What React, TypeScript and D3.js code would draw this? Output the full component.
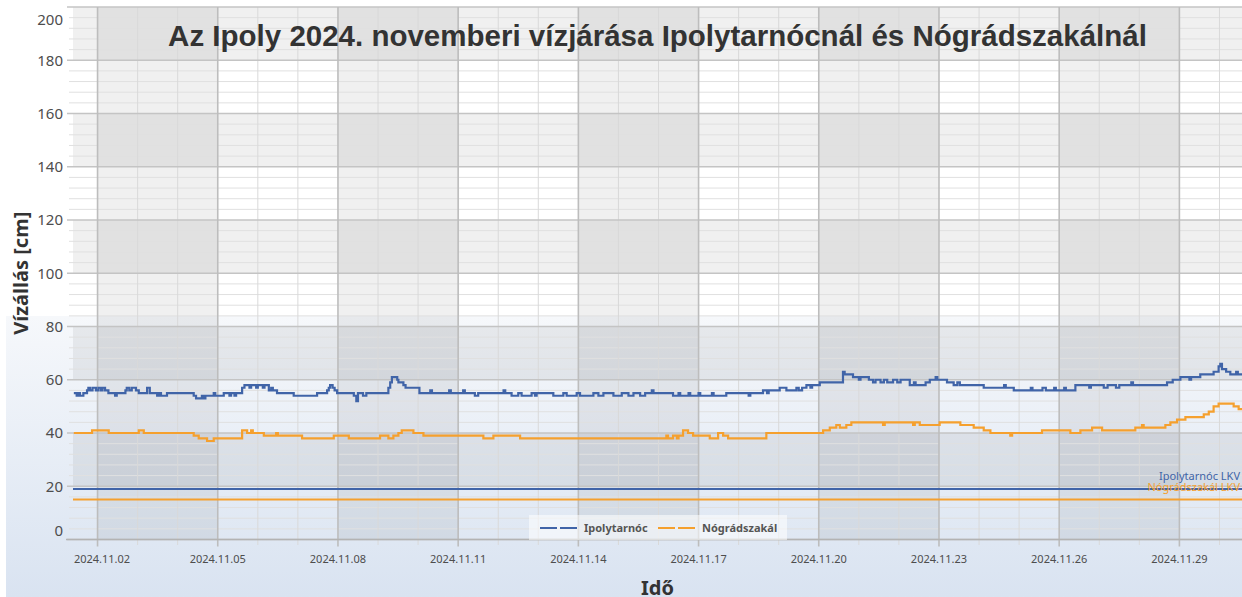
import React from "react";
import * as d3 from "d3";

// ---------- data ----------
const chartTitle = "Az Ipoly 2024. novemberi vízjárása Ipolytarnócnál és Nógrádszakálnál";
const yAxisTitle = "Vízállás [cm]";
const xAxisTitle = "Idő";
const seriesNames = ["Ipolytarnóc", "Nógrádszakál"];
const seriesColors = ["#4064a8", "#f5a02e"];
const lkvLabels = ["Ipolytarnóc LKV", "Nógrádszakál LKV"];
const lkvValues = [19, 15];
const yTickValues = [0, 20, 40, 60, 80, 100, 120, 140, 160, 180, 200];
// x domain in hours since 2024-11-01 00:00 (UTC)
const xStartHour = 9.3;
const xEndHour = 709.5;

// [hours since 2024-11-01 00:00, water level cm] — step change points
const ipolytarnoc: [number, number][] = [
  [9.8, 55], [11.5, 54], [12.5, 55], [13.5, 54], [15.5, 55], [17.7, 56], [18.5, 57], [19.5, 56], [21, 57], [23, 56],
  [24.5, 57], [26, 56], [27, 57], [28.5, 56], [30.5, 55], [34.5, 54], [35.5, 55], [40.7, 56], [41.5, 57], [43, 56],
  [44.5, 57], [47, 56], [48.7, 55], [53.7, 57], [55.3, 55], [59.7, 54], [61, 55], [62, 54], [65.6, 55], [81.6, 54],
  [83, 53], [86.5, 54], [87.5, 53], [88.6, 54], [93.6, 55], [94.5, 54], [99.6, 55], [103, 54], [104, 55], [106, 54],
  [107, 55], [110.6, 57], [112, 58], [115, 57], [116, 58], [119, 57], [120, 58], [123, 57], [124, 58], [126.6, 56],
  [128, 57], [129, 56], [131.5, 55], [141.5, 54], [155.5, 55], [161.5, 56], [162.5, 57], [163.3, 58], [164.8, 57],
  [166, 56], [167.5, 55], [177.5, 54], [179, 52], [180, 55], [183, 54], [185, 55], [198.2, 57], [199.3, 59],
  [200.3, 61], [203.5, 60], [204.2, 59], [207.2, 58], [208.5, 57], [216.8, 55], [223.3, 56], [224.3, 55],
  [234.6, 56], [235.6, 55], [243, 56], [244, 55], [250, 54], [252, 55], [267.2, 56], [268.2, 55], [272, 54],
  [276, 55], [278, 54], [284, 55], [286, 54], [287, 55], [297, 54], [303, 55], [305, 54], [311, 55], [313, 54],
  [321, 55], [324, 54], [327, 55], [333, 54], [338, 55], [342, 54], [345, 55], [349, 54], [352, 55], [356, 56],
  [357, 55], [368.7, 54], [372, 55], [373, 54], [378, 55], [379, 54], [384, 55], [385, 54], [392, 55], [393, 54],
  [400.6, 55], [414, 54], [415, 55], [422.6, 56], [425, 55], [426, 56], [432.6, 57], [436.6, 56], [442.6, 57],
  [444, 56], [446, 57], [448.6, 58], [451, 57], [452, 58], [456.6, 59], [470.5, 63], [471.5, 62], [476.5, 61],
  [480, 60], [481, 61], [486, 60], [488.5, 59], [490, 60], [493, 59], [495, 60], [497, 59], [500.5, 60], [503, 59],
  [505, 60], [510.5, 58], [513, 59], [514, 58], [520, 59], [522.5, 60], [526, 61], [527, 60], [532.8, 59],
  [536.8, 58], [539, 59], [540.5, 58], [554.8, 57], [567, 58], [568, 57], [572.8, 56], [583, 57], [584, 56],
  [590, 57], [592, 56], [597, 57], [598, 56], [603, 57], [604, 56], [609.7, 58], [618, 57], [619, 58], [626.7, 57],
  [629, 58], [634, 57], [636, 58], [643.2, 59], [644.2, 58], [664.6, 59], [668, 60], [672.6, 61], [678, 60],
  [679, 61], [684.5, 62], [692.5, 63], [695.5, 65], [696.5, 66], [697.5, 64], [700, 63], [702.5, 62], [706, 63],
  [707, 62], [709.5, 62],
];

const nogradszakal: [number, number][] = [
  [9.8, 40], [20.7, 41], [30.7, 40], [48.7, 41], [51.7, 40], [81.6, 39], [84.6, 38], [89.6, 37], [93.6, 38],
  [110.6, 41], [113.6, 40], [116, 41], [117, 40], [123.6, 39], [131, 40], [132, 39], [146.5, 38], [165.5, 39],
  [174.5, 38], [193.2, 39], [198.2, 38], [201.2, 39], [204.2, 40], [206.2, 41], [213.2, 40], [219.2, 39],
  [255.1, 38], [261.1, 39], [277.1, 38], [364.7, 39], [365.7, 38], [368.7, 39], [371, 38], [372, 39], [374.7, 41],
  [377.7, 40], [380.7, 39], [390.7, 38], [395.7, 40], [398.7, 39], [401.7, 38], [424.6, 40], [458.6, 41],
  [462.6, 42], [466.5, 43], [468.6, 42], [472.5, 43], [475.5, 44], [494.5, 43], [495.5, 44], [512.5, 43],
  [513.5, 44], [516.5, 43], [528.4, 44], [540.8, 43], [548.8, 42], [554.8, 41], [558.8, 40], [570.7, 39],
  [571.8, 40], [589.7, 41], [606.7, 40], [612.7, 41], [619.7, 42], [625.7, 41], [645.6, 42], [649.6, 43],
  [650.6, 42], [663.6, 43], [666.6, 44], [670.6, 45], [675.6, 46], [686.6, 47], [689.6, 48], [692.5, 50],
  [695.5, 51], [704.5, 50], [707.5, 49], [709.5, 49],
];

const seriesData = [ipolytarnoc, nogradszakal];

// ---------- chart ----------
const W = 1242;
const H = 597;
const FONT = "'Noto Sans', 'Open Sans', sans-serif";

export default function App() {
  const left = 73, right = 1242, top = 7, bottom = 539.5;
  const t0 = Date.UTC(2024, 10, 1);
  const toDate = (h: number) => new Date(t0 + h * 3600e3);
  const x = d3.scaleUtc().domain([toDate(xStartHour), toDate(xEndHour)]).range([left, right]);
  const y = d3.scaleLinear().domain([0, 200]).range([bottom, top]);

  const days = d3.utcDay.range(toDate(xStartHour), toDate(xEndHour));
  const majorDays = days.filter((d) => (d.getUTCDate() - 2) % 3 === 0);
  const minorDays = days.filter((d) => (d.getUTCDate() - 2) % 3 !== 0);
  const fmt = d3.utcFormat("%Y.%m.%d");

  const xBands: [number, number][] = [];
  majorDays.forEach((d, i) => {
    if (i % 2 === 0) {
      const next = majorDays[i + 1] ? x(majorDays[i + 1]) : right;
      xBands.push([x(d), next]);
    }
  });
  const yBands: [number, number][] = [];
  yTickValues.forEach((v) => {
    if (v < 200 && (v / 20) % 2 === 1) yBands.push([y(v + 20), y(v)]);
  });
  const minorY = d3.range(0, 201, 4).filter((v) => v % 20 !== 0);

  const line = d3
    .line<[number, number]>()
    .x((d) => x(toDate(d[0])))
    .y((d) => y(d[1]))
    .curve(d3.curveStepAfter);

  const shade = "rgba(0,0,0,0.058)";
  const labelHalf = 28;

  return (
    <svg
      width={W}
      height={H}
      style={{ position: "absolute", left: 0, top: 0, display: "block" }}
      fontFamily={FONT}
    >
      <defs>
        <linearGradient id="bg" x1="0" y1="0" x2="0" y2="1">
          <stop offset="0" stopColor="#f6f8fb" />
          <stop offset="1" stopColor="#d9e3f1" />
        </linearGradient>
        <clipPath id="plot">
          <rect x={left} y={top} width={right - left} height={bottom - top} />
        </clipPath>
      </defs>
      <rect x={0} y={0} width={W} height={H} fill="#ffffff" />
      <rect x={6} y={316} width={W - 6} height={H - 316} fill="url(#bg)" />

      {/* bands */}
      {xBands.map((b, i) => (
        <rect key={"xb" + i} x={b[0]} y={top} width={b[1] - b[0]} height={bottom - top} fill={shade} />
      ))}
      {yBands.map((b, i) => (
        <rect key={"yb" + i} x={left} y={b[0]} width={right - left} height={b[1] - b[0]} fill={shade} />
      ))}

      {/* minor grid */}
      {minorY.map((v) => (
        <line key={"my" + v} x1={69} x2={right} y1={y(v)} y2={y(v)} stroke="#e0e0e0" strokeWidth={1} />
      ))}
      {minorDays.map((d, i) => (
        <line key={"mx" + i} x1={x(d)} x2={x(d)} y1={top} y2={bottom + 5.5} stroke="#d9d9d9" strokeWidth={1} />
      ))}
      {/* major grid */}
      {yTickValues.map((v) => (
        <line key={"gy" + v} x1={67} x2={right} y1={y(v)} y2={y(v)} stroke="#c4c4c4" strokeWidth={1.3} />
      ))}
      {majorDays.map((d, i) => (
        <line key={"gx" + i} x1={x(d)} x2={x(d)} y1={top} y2={bottom + 7} stroke="#bdbdbd" strokeWidth={1.6} />
      ))}
      <line x1={66} x2={right} y1={bottom} y2={bottom} stroke="#b3b3b3" strokeWidth={1.3} />

      {/* title */}
      <text
        x={(left + right) / 2}
        y={46}
        textAnchor="middle"
        fontFamily="'Liberation Sans', Arial, sans-serif"
        fontWeight="bold"
        fontSize={29.5}
        fill="#333333"
      >
        {chartTitle}
      </text>

      {/* LKV lines */}
      {lkvValues.map((v, i) => (
        <g key={"lkv" + i}>
          <line x1={left} x2={right} y1={y(v)} y2={y(v)} stroke={seriesColors[i]} strokeWidth={2} />
          <text x={1240} y={y(v) - 9} textAnchor="end" fontSize={11} fill={seriesColors[i]}>
            {lkvLabels[i]}
          </text>
        </g>
      ))}

      {/* series */}
      <g clipPath="url(#plot)">
        {seriesData.map((s, i) => (
          <path key={"s" + i} d={line(s) || ""} fill="none" stroke={seriesColors[i]} strokeWidth={2.2} />
        ))}
      </g>

      {/* y ticks */}
      {yTickValues.map((v) => (
        <text
          key={"yt" + v}
          x={63}
          y={Math.min(Math.max(y(v), 20), 531)}
          dy="0.35em"
          textAnchor="end"
          fontSize={15}
          fill="#4d4d4d"
        >
          {v}
        </text>
      ))}
      {/* x ticks */}
      {majorDays.map((d, i) => (
        <text
          key={"xt" + i}
          x={Math.max(x(d), left + 1 + labelHalf)}
          y={563}
          textAnchor="middle"
          fontSize={11}
          fill="#4d4d4d"
        >
          {fmt(d)}
        </text>
      ))}

      {/* axis titles */}
      <text
        transform={`translate(28,${(top + bottom) / 2}) rotate(-90)`}
        textAnchor="middle"
        fontWeight="bold"
        fontSize={20}
        fill="#333333"
      >
        {yAxisTitle}
      </text>
      <text x={(left + right) / 2} y={595} textAnchor="middle" fontWeight="bold" fontSize={20} fill="#333333">
        {xAxisTitle}
      </text>

      {/* legend */}
      <g>
        <rect x={529} y={515} width={258} height={25} fill="rgba(255,255,255,0.55)" />
        {seriesNames.map((n, i) => {
          const lx = i === 0 ? 540 : 658;
          return (
            <g key={"lg" + i}>
              <line
                x1={lx}
                x2={lx + 37}
                y1={528}
                y2={528}
                stroke={seriesColors[i]}
                strokeWidth={2}
                strokeDasharray="17 3"
              />
              <text x={lx + 44} y={532} fontSize={11} fontWeight="bold" fill="#555555">
                {n}
              </text>
            </g>
          );
        })}
      </g>
    </svg>
  );
}
